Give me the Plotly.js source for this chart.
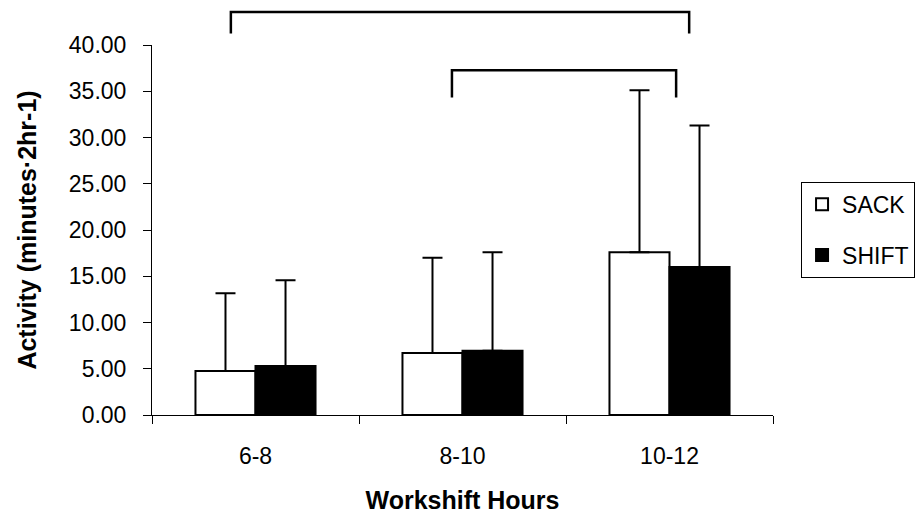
<!DOCTYPE html>
<html>
<head>
<meta charset="utf-8">
<script src="https://cdn.plot.ly/plotly-3.0.1.min.js"></script>
<style>html,body{margin:0;padding:0;background:#fff;}#chart{width:920px;height:529px;}</style>
</head>
<body>
<div id="chart"></div>
<script>
const categories = ["6-8", "8-10", "10-12"];
const sackMeans = [4.76, 6.70, 17.6];
const sackSD = [8.39, 10.3, 17.5];
const shiftMeans = [5.3, 6.95, 16.0];
const shiftSD = [9.26, 10.65, 15.3];
const yTicks = [0, 5, 10, 15, 20, 25, 30, 35, 40];

const font = "Liberation Sans, Arial, sans-serif";

const errStyle = {type: "data", symmetric: false, color: "#000", thickness: 2, width: 10};

const traces = [
  {
    type: "bar", name: "SACK", legendgroup: "a", x: categories, y: sackMeans,
    marker: {color: "#fff", line: {color: "#000", width: 2}},
    error_y: Object.assign({array: sackSD, arrayminus: sackSD.map(() => 0)}, errStyle)
  },
  {
    type: "bar", name: "SHIFT", legendgroup: "b", x: categories, y: shiftMeans,
    marker: {color: "#000", line: {color: "#000", width: 2}},
    error_y: Object.assign({array: shiftSD, arrayminus: shiftSD.map(() => 0)}, errStyle)
  }
];

const bracketLine = {color: "#000", width: 2.5};
const layout = {
  width: 920, height: 529,
  margin: {l: 152, r: 147, t: 45, b: 114, autoexpand: false},
  paper_bgcolor: "#fff", plot_bgcolor: "#fff",
  font: {family: font, size: 23, color: "#000"},
  barmode: "group", bargap: 0.42, bargroupgap: 0,
  showlegend: true,
  legend: {
    xref: "container", yref: "container",
    x: 0.8707, y: 0.6565, xanchor: "left", yanchor: "top",
    bordercolor: "#000", borderwidth: 1, bgcolor: "#fff",
    font: {family: font, size: 23, color: "#000"},
    tracegroupgap: 18, itemwidth: 30
  },
  xaxis: {
    type: "category", showline: true, linecolor: "#000", linewidth: 1,
    ticks: "outside", tickson: "boundaries", ticklen: 8, tickcolor: "#000",
    showgrid: false, zeroline: false, ticklabelstandoff: 20,
    tickfont: {family: font, size: 23},
    title: {text: "<b>Workshift Hours</b>", font: {family: font, size: 25}, standoff: 23}
  },
  yaxis: {
    range: [0, 40], tickvals: yTicks, tickformat: ".2f",
    showline: true, linecolor: "#000", linewidth: 1,
    ticks: "outside", ticklen: 8, tickcolor: "#000",
    showgrid: false, zeroline: false, ticklabelstandoff: 12,
    tickfont: {family: font, size: 23},
    title: {text: "<b>Activity (minutes·2hr-1)</b>", font: {family: font, size: 25}, standoff: 25}
  },
  shapes: [
    {type: "path", xref: "paper", yref: "paper",
     path: "M 0.127 1.031 L 0.127 1.089 L 0.865 1.089 L 0.865 1.031", line: bracketLine},
    {type: "path", xref: "paper", yref: "paper",
     path: "M 0.483 0.858 L 0.483 0.932 L 0.844 0.932 L 0.844 0.858", line: bracketLine}
  ]
};

Plotly.newPlot("chart", traces, layout, {displayModeBar: false, staticPlot: true});
</script>
</body>
</html>
